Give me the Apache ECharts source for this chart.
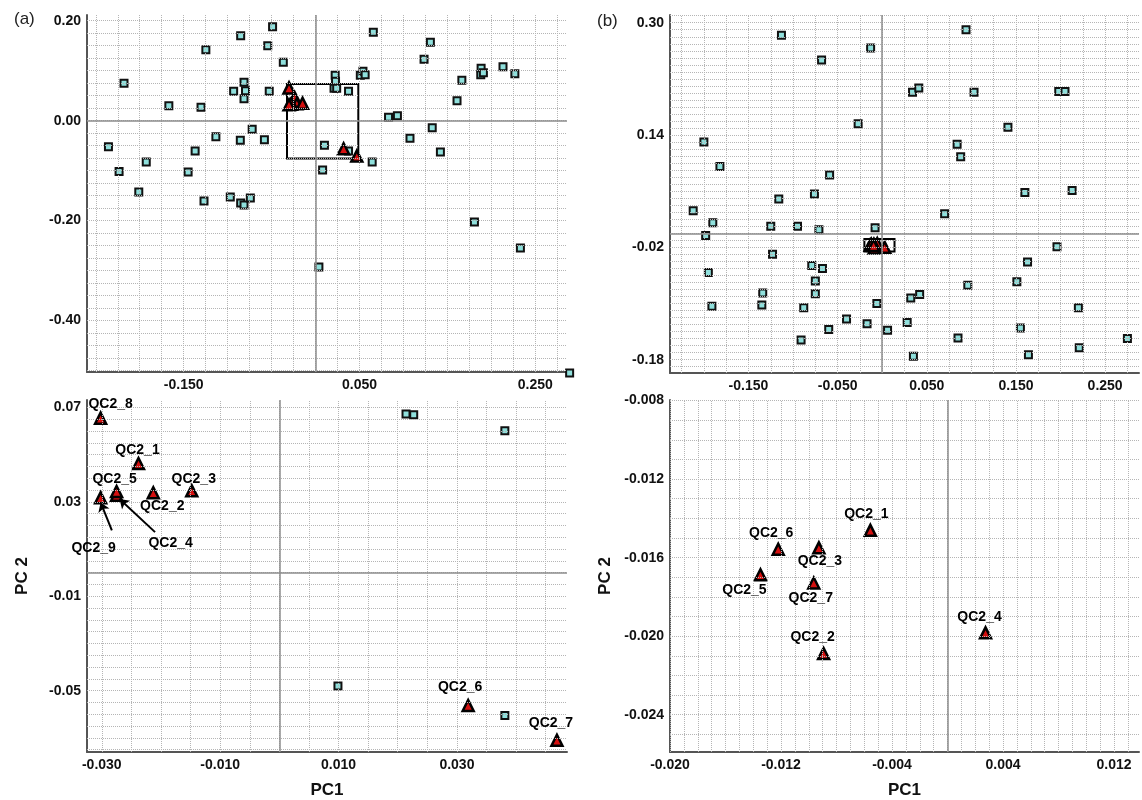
<!DOCTYPE html>
<html><head><meta charset="utf-8">
<script src="https://cdn.jsdelivr.net/npm/echarts@6/dist/echarts.min.js"></script>
<style>html,body{margin:0;padding:0;background:#fff}#c{width:1142px;height:800px}</style>
</head><body><div id="c"></div>
<script>
// ---------------- DATA ----------------
const squaresA = [[-0.2356,-0.052],[-0.2179,0.075],[-0.2235,-0.102],[-0.1926,-0.083],[-0.2011,-0.143],[-0.1669,0.030],[-0.1303,0.027],[-0.1248,0.142],[-0.1450,-0.103],[-0.1370,-0.061],[-0.1269,-0.161],[-0.1134,-0.032],[-0.0970,-0.153],[-0.0932,0.059],[-0.0852,0.170],[-0.0856,-0.039],[-0.0852,-0.165],[-0.0814,-0.169],[-0.0742,-0.155],[-0.0814,0.077],[-0.0797,0.060],[-0.0814,0.044],[-0.0721,-0.017],[-0.0582,-0.038],[-0.0544,0.150],[-0.0527,0.059],[-0.0489,0.188],[-0.0367,0.117],[0.0101,-0.049],[0.0080,-0.099],[0.0038,-0.293],[0.0223,0.091],[0.0227,0.079],[0.0210,0.065],[0.0240,0.065],[0.0375,0.059],[0.0375,-0.061],[0.0509,0.091],[0.0539,0.099],[0.0564,0.092],[0.0657,0.177],[0.0644,-0.083],[0.0830,0.007],[0.0931,0.010],[0.1074,-0.035],[0.1234,0.123],[0.1306,0.157],[0.1327,-0.014],[0.1420,-0.063],[0.1609,0.040],[0.1664,0.081],[0.1807,-0.203],[0.1883,0.105],[0.1879,0.092],[0.1909,0.096],[0.2132,0.108],[0.2267,0.094],[0.2330,-0.255],[0.2890,-0.505]];
const qcNamesB = ['QC2_1','QC2_2','QC2_3','QC2_4','QC2_5','QC2_6','QC2_7','QC2_8','QC2_9'];
const qcB = [[-0.0238,0.0463],[-0.0213,0.0339],[-0.0148,0.0347],[-0.0275,0.0328],[-0.0275,0.0344],[0.0319,-0.0563],[0.0469,-0.0710],[-0.0302,0.0655],[-0.0302,0.0318]];
const squaresB = [[0.0214,0.0673],[0.0227,0.0669],[0.0381,0.0602],[0.0099,-0.0480],[0.0381,-0.0605]];
const arrowsB = [[[-0.0283,0.0179],[-0.0302,0.0298]],[[-0.0210,0.0172],[-0.0270,0.0312]]];
const squaresC = [[-0.113,0.282],[-0.013,0.264],[-0.068,0.247],[0.094,0.290],[0.034,0.201],[0.041,0.207],[0.103,0.201],[0.198,0.202],[0.205,0.202],[-0.027,0.156],[0.141,0.151],[-0.200,0.130],[0.084,0.127],[0.088,0.109],[-0.182,0.095],[-0.059,0.083],[-0.076,0.056],[-0.116,0.049],[0.160,0.058],[0.213,0.061],[-0.212,0.032],[0.070,0.028],[-0.190,0.015],[-0.125,0.010],[-0.095,0.010],[-0.071,0.005],[-0.008,0.008],[-0.198,-0.003],[0.196,-0.019],[-0.123,-0.030],[0.163,-0.041],[-0.079,-0.046],[-0.067,-0.050],[-0.195,-0.056],[-0.075,-0.068],[0.151,-0.069],[0.096,-0.074],[-0.134,-0.085],[-0.075,-0.086],[0.032,-0.092],[0.042,-0.087],[-0.135,-0.102],[-0.191,-0.104],[-0.088,-0.106],[-0.006,-0.100],[0.220,-0.106],[-0.040,-0.122],[-0.017,-0.129],[0.028,-0.127],[-0.060,-0.137],[0.006,-0.138],[0.155,-0.135],[-0.091,-0.152],[0.085,-0.149],[0.221,-0.163],[0.275,-0.150],[0.035,-0.175],[0.164,-0.173]];
const qcNamesD = ['QC2_1','QC2_2','QC2_3','QC2_4','QC2_5','QC2_6','QC2_7'];
const qcD = [[-0.00556,-0.01461],[-0.00893,-0.02088],[-0.00927,-0.01550],[0.00274,-0.01983],[-0.01348,-0.01687],[-0.01220,-0.01557],[-0.00964,-0.01729]];
// tick labels
const ticksAx = [-0.150, 0.050, 0.250];
const ticksAy = [0.20, 0.00, -0.20, -0.40];
const ticksBx = [-0.030, -0.010, 0.010, 0.030];
const ticksBy = [0.07, 0.03, -0.01, -0.05];
const ticksCx = [-0.150, -0.050, 0.050, 0.150, 0.250];
const ticksCy = [0.30, 0.14, -0.02, -0.18];
const ticksDx = [-0.020, -0.012, -0.004, 0.004, 0.012];
const ticksDy = [-0.008, -0.012, -0.016, -0.020, -0.024];

// ---------------- LAYOUT / STYLE ----------------
const FONT = '"Liberation Sans", Arial, sans-serif';
const grids = [
  {left: 87, top: 15, width: 480, height: 357},
  {left: 670, top: 15, width: 472, height: 358},
  {left: 87, top: 400, width: 480, height: 355},
  {left: 670, top: 400, width: 472, height: 358}
];
const axX = [
  {min: -0.26, max: 0.286, step: 0.005, g: 0.025, dec: 3, ticks: ticksAx},
  {min: -0.238, max: 0.288, step: 0.001, g: 0.025, dec: 3, ticks: ticksCx},
  {min: -0.0325, max: 0.0486, step: 0.0005, g: 0.005, dec: 3, ticks: ticksBx},
  {min: -0.020, max: 0.0138, step: 0.001, g: 0.001, dec: 3, ticks: ticksDx}
];
const axY = [
  {min: -0.503, max: 0.2114, step: 0.001, g: 0.025, dec: 2, ticks: ticksAy},
  {min: -0.199, max: 0.311, step: 0.001, g: 0.01, dec: 2, ticks: ticksCy},
  {min: -0.076, max: 0.0732, step: 0.001, g: 0.005, dec: 2, ticks: ticksBy},
  {min: -0.0259, max: -0.00797, step: 0.0001, g: 0.001, dec: 3, ticks: ticksDy}
];

function fmtFactory(a) {
  return function (v) {
    const t = a.ticks.find(t => Math.abs(t - v) < a.step / 10);
    if (t === undefined) return '';
    const val = Math.abs(t) < 1e-12 ? 0 : t;
    return val.toFixed(a.dec);
  };
}
const labelStyle = {fontFamily: FONT, fontWeight: 'bold', fontSize: 14, color: '#111'};
const axisLineStyle = {show: true, onZero: false, lineStyle: {color: '#555', width: 2}};

const xAxes = axX.map((a, i) => ({
  type: 'value', gridIndex: i, min: a.min, max: a.max, interval: a.step,
  axisLine: axisLineStyle, axisTick: {show: false}, splitLine: {show: false},
  axisLabel: Object.assign({formatter: fmtFactory(a), margin: 6, showMinLabel: true, showMaxLabel: true}, labelStyle),
  name: i >= 2 ? 'PC1' : '', nameLocation: 'middle', nameGap: 30,
  nameTextStyle: {fontFamily: FONT, fontWeight: 'bold', fontSize: 17, color: '#111'}
}));
const yAxes = axY.map((a, i) => ({
  type: 'value', gridIndex: i, min: a.min, max: a.max, interval: a.step,
  axisLine: axisLineStyle, axisTick: {show: false}, splitLine: {show: false},
  axisLabel: Object.assign({formatter: fmtFactory(a), margin: 6, showMinLabel: true, showMaxLabel: true}, labelStyle),
  name: i >= 2 ? 'PC 2' : '', nameLocation: 'middle', nameGap: 56, nameRotate: 90,
  nameTextStyle: {fontFamily: FONT, fontWeight: 'bold', fontSize: 17, color: '#111'}
}));

function gridLineValues(a) {
  const out = [];
  const n0 = Math.ceil(a.min / a.g - 1e-9), n1 = Math.floor(a.max / a.g + 1e-9);
  for (let n = n0; n <= n1; n++) out.push(+(n * a.g).toFixed(6));
  return out;
}

const series = [];
for (let i = 0; i < 4; i++) {
  const gl = [];
  gridLineValues(axX[i]).forEach(v => gl.push({xAxis: v}));
  gridLineValues(axY[i]).forEach(v => gl.push({yAxis: v}));
  series.push({
    type: 'scatter', xAxisIndex: i, yAxisIndex: i, data: [], silent: true, z: 1,
    markLine: {silent: true, symbol: ['none', 'none'], animation: false, precision: 6,
      label: {show: false}, lineStyle: {type: 'dotted', color: '#b5b5b5', width: 1, opacity: 1}, data: gl}
  });
  const zl = [{xAxis: 0}];
  if (axY[i].min < 0 && axY[i].max > 0) zl.push({yAxis: 0});
  series.push({
    type: 'scatter', xAxisIndex: i, yAxisIndex: i, data: [], silent: true, z: 2,
    markLine: {silent: true, symbol: ['none', 'none'], animation: false,
      label: {show: false}, lineStyle: {type: 'solid', color: '#8c8c8c', width: 1.5, opacity: 1}, data: zl}
  });
}

const TRI = 11;
const squareStyle = {color: '#8fe0dc', borderColor: '#111', borderWidth: 2, opacity: 1};
const triStyle = {color: '#d40f0f', borderColor: '#000', borderWidth: 2.5, opacity: 1};
function squares(i, data) {
  series.push({type: 'scatter', xAxisIndex: i, yAxisIndex: i, data: data, symbol: 'rect',
    symbolSize: 7, itemStyle: squareStyle, z: 3, clip: false, silent: true});
}
function triangles(i, names, data, placement) {
  series.push({type: 'scatter', xAxisIndex: i, yAxisIndex: i, symbol: 'triangle', symbolSize: TRI,
    itemStyle: triStyle, z: 4, clip: false, silent: true,
    data: data.map((d, k) => ({name: names[k], value: d}))});
  series.push({type: 'scatter', xAxisIndex: i, yAxisIndex: i, symbol: 'none', z: 5, silent: true,
    itemStyle: {opacity: 1},
    data: data.map(d => ({value: d})),
    label: {show: true, position: 'top', distance: 0, formatter: 'QC2', fontSize: 5,
      fontFamily: FONT, color: '#6b6bd8', textBorderWidth: 0}});
  if (placement) {
    series.push({type: 'scatter', xAxisIndex: i, yAxisIndex: i, symbol: 'rect', symbolSize: TRI,
      itemStyle: {color: 'rgba(0,0,0,0)', opacity: 1}, z: 6, silent: true,
      data: data.map((d, k) => {
        const off = placement[names[k]];
        return {name: names[k], value: d,
          label: {show: true, position: [TRI / 2 + off[0], TRI / 2 + off[1]], align: 'center',
            verticalAlign: 'middle', formatter: '{b}', fontFamily: FONT, fontWeight: 'bold',
            fontSize: 14, color: '#000'}};
      })});
  }
}
function box(i, ax, ay) {
  series.push({type: 'scatter', xAxisIndex: i, yAxisIndex: i, data: [], z: 5, silent: true,
    markArea: {silent: true, animation: false, itemStyle: {color: 'rgba(0,0,0,0)', borderColor: '#000', borderWidth: 2, opacity: 1},
      data: [[{coord: [ax.min, ay.max]}, {coord: [ax.max, ay.min]}]]}});
}

const placeB = {QC2_1: [-1, -13], QC2_2: [9, 13], QC2_3: [2, -12], QC2_4: [54, 48], QC2_5: [-2, -12],
  QC2_6: [-8, -18], QC2_7: [-6, -17], QC2_8: [10, -14], QC2_9: [-7, 50]};
const placeD = {QC2_1: [-4, -16], QC2_2: [-11, -16], QC2_3: [1, 13], QC2_4: [-6, -16], QC2_5: [-16, 15],
  QC2_6: [-7, -16], QC2_7: [-3, 15]};

squares(0, squaresA);
triangles(0, qcNamesB, qcB, null);
box(0, axX[2], axY[2]);
squares(1, squaresC);
triangles(1, qcNamesD, qcD, null);
box(1, axX[3], axY[3]);
squares(2, squaresB);
triangles(2, qcNamesB, qcB, placeB);
series.push({type: 'scatter', xAxisIndex: 2, yAxisIndex: 2, data: [], z: 5, silent: true,
  markLine: {silent: true, animation: false, symbol: ['none', 'arrow'], symbolSize: 9,
    label: {show: false}, lineStyle: {type: 'solid', color: '#000', width: 2, opacity: 1},
    data: arrowsB.map(a => [{coord: a[0]}, {coord: a[1]}])}});
triangles(3, qcNamesD, qcD, placeD);

const option = {
  animation: false,
  backgroundColor: '#fff',
  title: [
    {text: '(a)', left: 9, top: 6, textStyle: {fontFamily: FONT, fontWeight: 'normal', fontSize: 17, color: '#222'}},
    {text: '(b)', left: 592, top: 8, textStyle: {fontFamily: FONT, fontWeight: 'normal', fontSize: 17, color: '#222'}}
  ],
  grid: grids.map(g => Object.assign({containLabel: false}, g)),
  xAxis: xAxes,
  yAxis: yAxes,
  series: series
};
const chart = echarts.init(document.getElementById('c'), null, {renderer: 'canvas'});
chart.setOption(option);
</script>
</body></html>
